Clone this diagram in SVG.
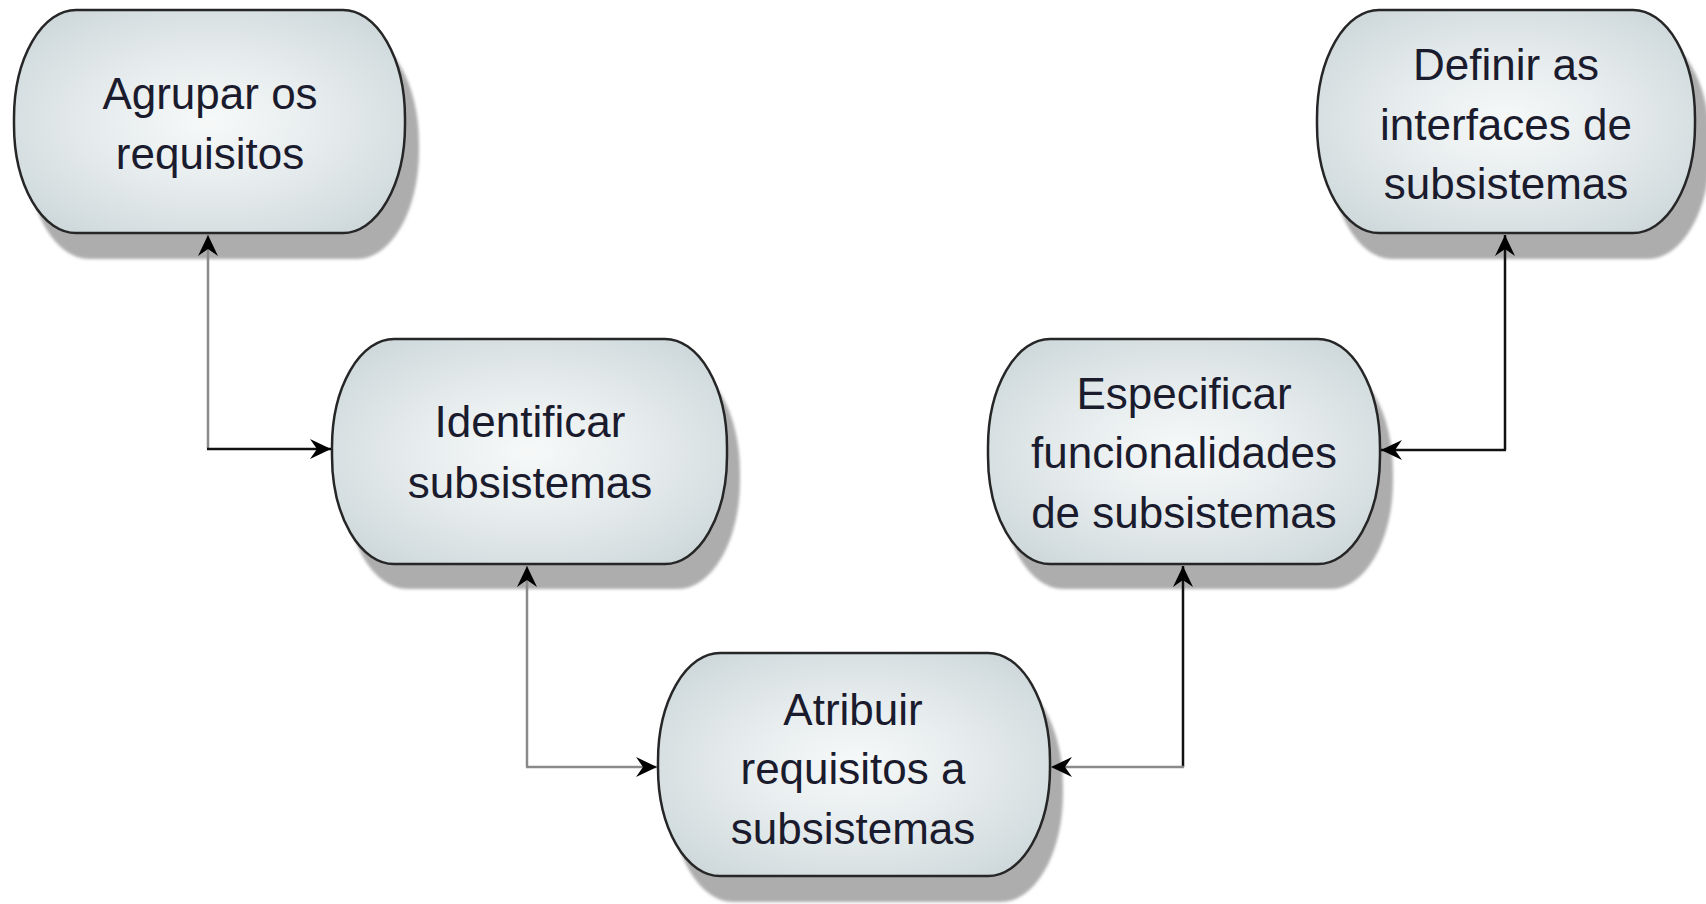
<svg xmlns="http://www.w3.org/2000/svg" width="1706" height="904" viewBox="0 0 1706 904">
<defs>
<radialGradient id="nodeFill" cx="0.5" cy="0.5" r="0.6">
<stop offset="0" stop-color="#f7f9f9"/>
<stop offset="0.55" stop-color="#e4eaec"/>
<stop offset="1" stop-color="#cfd9db"/>
</radialGradient>
<filter id="soft" x="-10%" y="-10%" width="120%" height="120%">
<feGaussianBlur stdDeviation="1.5"/>
</filter>
<marker id="arr" viewBox="-24 -12 26 24" refX="0" refY="0" markerWidth="26" markerHeight="24" markerUnits="userSpaceOnUse" orient="auto">
<path d="M0,0 L-21,-10 L-14,0 L-21,10 Z" fill="#000"/>
</marker>
</defs>
<style>
.shadow{fill:#adadad;filter:url(#soft)}
.box{fill:url(#nodeFill);stroke:#262626;stroke-width:2.5}
.lbl{font-family:"Liberation Sans",Arial,sans-serif;font-size:44px;fill:#1b1b2e;text-anchor:middle}
.cg{fill:none;stroke:#8a8a8a;stroke-width:2.5}
.cb{fill:none;stroke:#111;stroke-width:2.5}
</style>
<rect width="1706" height="904" fill="#fff"/>

<g id="node-agrupar">
<rect class="shadow" x="27" y="35" width="392" height="224" rx="62" ry="108"/>
<rect class="box" x="14" y="10" width="391" height="223" rx="62" ry="108"/>
<text class="lbl" x="210" y="109">Agrupar os</text>
<text class="lbl" x="210" y="169">requisitos</text>
</g>

<g id="node-identificar">
<rect class="shadow" x="345" y="364" width="395" height="225" rx="62" ry="108"/>
<rect class="box" x="332" y="339" width="395" height="225" rx="62" ry="108"/>
<text class="lbl" x="530" y="437">Identificar</text>
<text class="lbl" x="530" y="498">subsistemas</text>
</g>

<g id="node-atribuir">
<rect class="shadow" x="671" y="678" width="392" height="224" rx="62" ry="108"/>
<rect class="box" x="658" y="653" width="392" height="223" rx="62" ry="108"/>
<text class="lbl" x="853" y="725">Atribuir</text>
<text class="lbl" x="853" y="784">requisitos a</text>
<text class="lbl" x="853" y="844">subsistemas</text>
</g>

<g id="node-especificar">
<rect class="shadow" x="1001" y="364" width="392" height="225" rx="62" ry="108"/>
<rect class="box" x="988" y="339" width="392" height="225" rx="62" ry="108"/>
<text class="lbl" x="1184" y="409">Especificar</text>
<text class="lbl" x="1184" y="468">funcionalidades</text>
<text class="lbl" x="1184" y="528">de subsistemas</text>
</g>

<g id="node-definir">
<rect class="shadow" x="1330" y="35" width="380" height="224" rx="62" ry="108"/>
<rect class="box" x="1317" y="10" width="378" height="223" rx="62" ry="108"/>
<text class="lbl" x="1506" y="80">Definir as</text>
<text class="lbl" x="1506" y="140">interfaces de</text>
<text class="lbl" x="1506" y="199">subsistemas</text>
</g>

<g id="connectors">
<line class="cg" x1="208" y1="449" x2="208" y2="235" marker-end="url(#arr)"/>
<line class="cb" x1="207" y1="449" x2="331" y2="449" marker-end="url(#arr)"/>
<line class="cg" x1="527" y1="767" x2="527" y2="566" marker-end="url(#arr)"/>
<line class="cg" x1="526" y1="767" x2="657" y2="767" marker-end="url(#arr)"/>
<line class="cb" x1="1183" y1="767" x2="1183" y2="566" marker-end="url(#arr)"/>
<line class="cg" x1="1184" y1="767" x2="1051" y2="767" marker-end="url(#arr)"/>
<line class="cb" x1="1505" y1="450" x2="1505" y2="235" marker-end="url(#arr)"/>
<line class="cb" x1="1506" y1="450" x2="1381" y2="450" marker-end="url(#arr)"/>
</g>
</svg>
